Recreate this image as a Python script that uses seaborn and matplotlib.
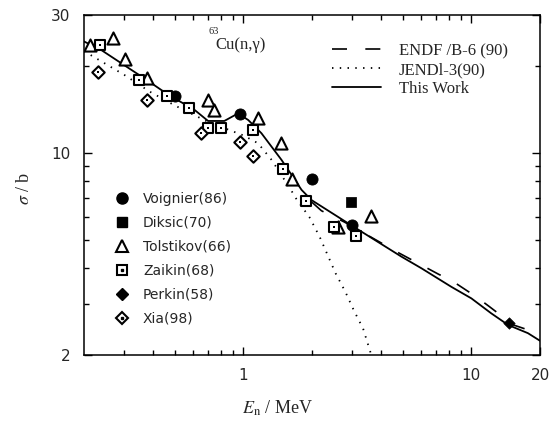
import matplotlib
matplotlib.use("Agg")
import matplotlib.pyplot as plt
import seaborn as sns
from matplotlib.lines import Line2D
from matplotlib.ticker import FixedLocator, FixedFormatter, NullFormatter

# ---- evaluated curves (E in MeV, sigma in b) ----
this_work_e = [0.20, 0.238, 0.376, 0.468, 0.61, 0.70, 0.825, 0.948, 1.05, 1.20,
               1.47, 1.80, 1.99, 2.88, 3.77, 4.93, 6.04, 8.18, 10.0, 12.2,
               14.5, 17.7, 20.0]
this_work_s = [24.3, 22.7, 17.9, 15.9, 14.1, 12.9, 12.9, 13.7, 13.0, 11.7,
               9.46, 7.45, 6.87, 5.71, 5.00, 4.38, 3.99, 3.44, 3.14, 2.79,
               2.54, 2.38, 2.24]

endf_e = [2.0, 2.2, 2.77, 4.83, 7.16, 8.32, 10.5, 12.0, 15.3, 17.8, 20.0]
endf_s = [6.75, 6.31, 5.77, 4.50, 3.81, 3.59, 3.18, 2.94, 2.54, 2.44, 2.34]

jendl_e = [0.20, 0.301, 0.388, 0.50, 0.70, 1.0, 1.16, 1.33, 1.61, 1.71,
           1.95, 2.16, 2.34, 2.54, 2.80, 3.06, 3.35, 3.64]
jendl_s = [22.5, 18.6, 16.3, 14.6, 12.8, 11.5, 10.8, 9.46, 7.49, 6.92,
           5.99, 5.13, 4.44, 3.83, 3.31, 2.84, 2.47, 2.0]

# ---- measurements ----
voignier_e = [0.50, 0.97, 1.99, 3.0]
voignier_s = [15.7, 13.6, 8.1, 5.63]

diksic_e = [2.98]
diksic_s = [6.78]

tolstikov_e = [0.213, 0.268, 0.304, 0.376, 0.70, 0.744, 1.16, 1.46, 1.64, 2.61, 3.64]
tolstikov_s = [23.6, 24.9, 21.1, 18.1, 15.3, 14.1, 13.2, 10.8, 8.1, 5.53, 6.05]

zaikin_e = [0.234, 0.347, 0.464, 0.578, 0.70, 0.795, 1.10, 1.49, 1.89, 2.51, 3.11]
zaikin_s = [23.6, 17.9, 15.7, 14.3, 12.2, 12.2, 12.0, 8.79, 6.84, 5.53, 5.18]

perkin_e = [14.6]
perkin_s = [2.58]

xia_e = [0.231, 0.376, 0.654, 0.963, 1.10]
xia_s = [19.1, 15.3, 11.75, 10.9, 9.77]

sns.set_theme(style="ticks")
plt.rcParams["font.family"] = ["DejaVu Sans"]
plt.rcParams["mathtext.fontset"] = "stix"

fig = plt.figure(figsize=(5.49, 4.25), dpi=100)
ax = fig.add_axes([84 / 549, 70 / 425, 456 / 549, 340 / 425])
ax.set_xscale("log")
ax.set_yscale("log")

# curves
sns.lineplot(x=this_work_e, y=this_work_s, ax=ax, color="black", lw=1.3,
             sort=False, estimator=None)
sns.lineplot(x=endf_e, y=endf_s, ax=ax, color="black", lw=1.2,
             sort=False, estimator=None)
ax.lines[-1].set_dashes((9, 11))
sns.lineplot(x=jendl_e, y=jendl_s, ax=ax, color="black", lw=1.3,
             sort=False, estimator=None)
ax.lines[-1].set_dashes((0.8, 3.5))

# points
ew = 1.5
sns.scatterplot(x=voignier_e, y=voignier_s, ax=ax, marker="o", s=64,
                color="black", edgecolor="black", zorder=5)
sns.scatterplot(x=diksic_e, y=diksic_s, ax=ax, marker="s", s=44,
                color="black", edgecolor="black", zorder=5)
sns.scatterplot(x=tolstikov_e, y=tolstikov_s, ax=ax, marker="^", s=76,
                facecolor="white", edgecolor="black", linewidth=ew, zorder=5)
sns.scatterplot(x=zaikin_e, y=zaikin_s, ax=ax, marker="s", s=56,
                facecolor="white", edgecolor="black", linewidth=ew, zorder=6)
sns.scatterplot(x=zaikin_e, y=zaikin_s, ax=ax, marker="s", s=3,
                color="black", linewidth=0, zorder=7)
sns.scatterplot(x=perkin_e, y=perkin_s, ax=ax, marker="D", s=34,
                color="black", edgecolor="black", zorder=5)
sns.scatterplot(x=xia_e, y=xia_s, ax=ax, marker="D", s=40,
                facecolor="white", edgecolor="black", linewidth=ew, zorder=6)
sns.scatterplot(x=xia_e, y=xia_s, ax=ax, marker="s", s=3,
                color="black", linewidth=0, zorder=7)

ax.set_xlim(0.2, 20)
ax.set_ylim(2, 30)

# ticks
ax.xaxis.set_major_locator(FixedLocator([1, 10, 20]))
ax.xaxis.set_major_formatter(FixedFormatter(["1", "10", "20"]))
ax.xaxis.set_minor_locator(FixedLocator([0.3, 0.4, 0.5, 0.6, 0.7, 0.8, 0.9,
                                         2, 3, 4, 5, 6, 7, 8, 9]))
ax.xaxis.set_minor_formatter(NullFormatter())
ax.yaxis.set_major_locator(FixedLocator([2, 10, 30]))
ax.yaxis.set_major_formatter(FixedFormatter(["2", "10", "30"]))
ax.yaxis.set_minor_locator(FixedLocator([3, 4, 5, 6, 7, 8, 9, 20]))
ax.yaxis.set_minor_formatter(NullFormatter())
ax.tick_params(which="both", direction="in", top=True, right=True,
               color="black", width=1.0)
ax.tick_params(which="major", length=6, labelsize=11)
ax.tick_params(which="minor", length=3.5)
ax.tick_params(axis="y", which="major", pad=10)
ax.tick_params(axis="x", which="major", pad=9)
for sp in ax.spines.values():
    sp.set_color("black")
    sp.set_linewidth(1.1)

ax.set_xlabel(r"$E_\mathrm{n}$ / MeV", fontsize=13, family="Liberation Serif")
ax.xaxis.set_label_coords(0.425, -0.128)
ax.set_ylabel(r"$\sigma$ / b", fontsize=13, family="Liberation Serif")
ax.yaxis.set_label_coords(-0.112, 0.49)

ax.text(0.272, 0.95, "63", transform=ax.transAxes, fontsize=7.5,
        family="Liberation Serif", ha="left", va="center")
ax.text(0.288, 0.912, "Cu(n,γ)", transform=ax.transAxes, fontsize=12,
        family="Liberation Serif", ha="left", va="center")

# legends
curve_handles = [
    Line2D([], [], color="black", lw=1.2, dashes=(9, 11)),
    Line2D([], [], color="black", lw=1.3, dashes=(0.8, 3.5)),
    Line2D([], [], color="black", lw=1.3),
]
leg1 = ax.legend(curve_handles, ["ENDF /B-6 (90)", "JENDl-3(90)", "This Work"],
                 loc="upper left", bbox_to_anchor=(0.53, 0.937), frameon=False,
                 handlelength=2.9, handletextpad=1.1, labelspacing=0.18,
                 borderaxespad=0, prop={"family": "Liberation Serif", "size": 12})
ax.add_artist(leg1)

dot = dict(marker="s", markersize=1.7, color="black", lw=0)
pt_handles = [
    Line2D([], [], marker="o", markersize=8, color="black", lw=0),
    Line2D([], [], marker="s", markersize=6.6, color="black", lw=0),
    Line2D([], [], marker="^", markersize=8.7, markerfacecolor="white",
           markeredgecolor="black", markeredgewidth=ew, lw=0),
    (Line2D([], [], marker="s", markersize=7.5, markerfacecolor="white",
            markeredgecolor="black", markeredgewidth=ew, lw=0), Line2D([], [], **dot)),
    Line2D([], [], marker="D", markersize=5.8, color="black", lw=0),
    (Line2D([], [], marker="D", markersize=6.3, markerfacecolor="white",
            markeredgecolor="black", markeredgewidth=ew, lw=0), Line2D([], [], **dot)),
]
pt_labels = ["Voignier(86)", "Diksic(70)", "Tolstikov(66)", "Zaikin(68)",
             "Perkin(58)", "Xia(98)"]
ax.legend(pt_handles, pt_labels, loc="upper left", bbox_to_anchor=(0.053, 0.497),
          frameon=False, handlelength=1.2, handletextpad=0.9, labelspacing=0.72,
          borderaxespad=0, prop={"family": "DejaVu Sans", "size": 10})

fig.savefig("out.png", dpi=100, facecolor="white")
